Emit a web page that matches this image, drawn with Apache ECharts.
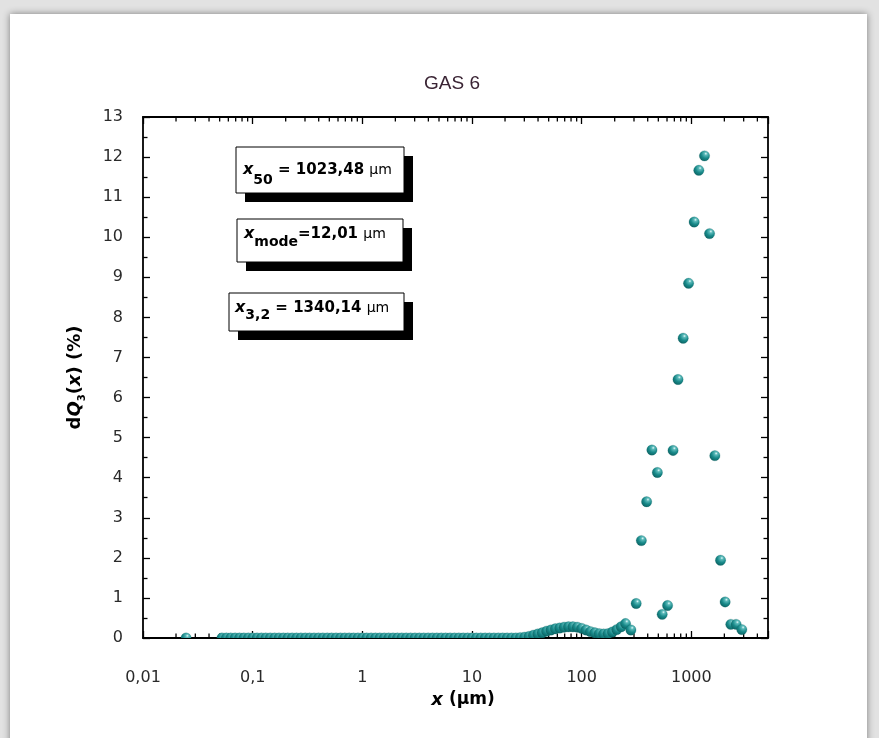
<!DOCTYPE html>
<html>
<head>
<meta charset="utf-8">
<script src="https://cdn.jsdelivr.net/npm/echarts@6/dist/echarts.min.js"></script>
<style>
html,body{margin:0;padding:0;width:879px;height:738px;overflow:hidden;background:#e2e2e2;}
#card{position:absolute;left:10px;top:14px;width:857px;height:740px;background:#fff;box-shadow:0 0 7px rgba(0,0,0,0.45);}
#chart{position:absolute;left:0;top:0;width:879px;height:738px;}
</style>
</head>
<body>
<div id="card"></div>
<div id="chart"></div>
<script>
// ---------- data ----------
const chartTitle = 'GAS 6';
const xTickValues = [0.01, 0.1, 1, 10, 100, 1000];
const xTickLabels = ['0,01', '0,1', '1', '10', '100', '1000'];
const xMinorTicks = [0.02, 0.03, 0.04, 0.05, 0.06, 0.07, 0.08, 0.09,
                     0.2, 0.3, 0.4, 0.5, 0.6, 0.7, 0.8, 0.9,
                     2, 3, 4, 5, 6, 7, 8, 9,
                     20, 30, 40, 50, 60, 70, 80, 90,
                     200, 300, 400, 500, 600, 700, 800, 900,
                     2000, 3000, 4000];
const yMin = 0, yMax = 13;

// isolated point
const strayX = [0.0247];
const strayY = [0];

// dense fine-size channel series (µm, %)
const denseX = [
  0.05248, 0.05754, 0.06310, 0.06918, 0.07586, 0.08318, 0.09120,
  0.1000, 0.1096, 0.1202, 0.1318, 0.1445, 0.1585, 0.1738, 0.1905, 0.2089, 0.2291,
  0.2512, 0.2754, 0.3020, 0.3311, 0.3631, 0.3981, 0.4365, 0.4786, 0.5248, 0.5754,
  0.6310, 0.6918, 0.7586, 0.8318, 0.9120,
  1.000, 1.096, 1.202, 1.318, 1.445, 1.585, 1.738, 1.905, 2.089, 2.291,
  2.512, 2.754, 3.020, 3.311, 3.631, 3.981, 4.365, 4.786, 5.248, 5.754,
  6.310, 6.918, 7.586, 8.318, 9.120,
  10.00, 10.96, 12.02, 13.18, 14.45, 15.85, 17.38, 19.05, 20.89, 22.91,
  25.12, 27.54, 30.20, 33.11, 36.31, 39.81, 43.65, 47.86, 52.48, 57.54,
  63.10, 69.18, 75.86, 83.18, 91.20,
  100.0, 109.6, 120.2, 131.8, 144.5, 158.5, 173.8, 190.5, 208.9, 229.1
];
const denseY = [
  0, 0, 0, 0, 0, 0, 0,
  0, 0, 0, 0, 0, 0, 0, 0, 0, 0,
  0, 0, 0, 0, 0, 0, 0, 0, 0, 0,
  0, 0, 0, 0, 0,
  0, 0, 0, 0, 0, 0, 0, 0, 0, 0,
  0, 0, 0, 0, 0, 0, 0, 0, 0, 0,
  0, 0, 0, 0, 0,
  0, 0, 0, 0, 0, 0, 0, 0, 0, 0,
  0, 0.01, 0.02, 0.04, 0.07, 0.10, 0.13, 0.17, 0.20, 0.23,
  0.25, 0.27, 0.28, 0.28, 0.27,
  0.24, 0.20, 0.16, 0.13, 0.11, 0.10, 0.11, 0.15, 0.21, 0.28
];

// coarse-size channel series (µm, %)
const peakX = [251, 281, 314, 350, 391, 437, 490, 542, 607, 681, 756, 842,
               943, 1061, 1170, 1318, 1465, 1638, 1845, 2032, 2291, 2560, 2884];
const peakY = [0.36, 0.20, 0.86, 2.43, 3.40, 4.69, 4.13, 0.59, 0.81, 4.68, 6.45, 7.48,
               8.85, 10.38, 11.67, 12.03, 10.09, 4.55, 1.94, 0.90, 0.34, 0.34, 0.21];

// ---------- chart ----------
const chart = echarts.init(document.getElementById('chart'), null, {renderer: 'canvas'});

const pairs = (xs, ys) => xs.map((x, i) => [x, ys[i]]);
const points = pairs(strayX, strayY).concat(pairs(denseX, denseY), pairs(peakX, peakY));

const ballFill = new echarts.graphic.RadialGradient(0.62, 0.3, 0.75, [
  {offset: 0, color: '#e6fbfb'},
  {offset: 0.18, color: '#5cbaba'},
  {offset: 0.55, color: '#188989'},
  {offset: 1, color: '#0a5f5f'}
]);

function renderBall(params, api) {
  const p = api.coord([api.value(0), api.value(1)]);
  return {
    type: 'circle',
    shape: {cx: p[0], cy: p[1], r: 5.2},
    style: {fill: ballFill, stroke: 'rgba(8,90,90,0.35)', lineWidth: 0.6}
  };
}

function renderMinorTick(params, api) {
  const v = api.value(0);
  const b = api.coord([v, yMin]);
  const t = api.coord([v, yMax]);
  return {
    type: 'group',
    children: [
      {type: 'line', shape: {x1: b[0], y1: b[1], x2: b[0], y2: b[1] - 4.5}, style: {stroke: '#000', lineWidth: 1.3}},
      {type: 'line', shape: {x1: t[0], y1: t[1], x2: t[0], y2: t[1] + 4.5}, style: {stroke: '#000', lineWidth: 1.3}}
    ]
  };
}

const labelFont = 'DejaVu Sans';
const isDecade = v => xTickValues.findIndex(t => Math.abs(Math.log10(t) - Math.log10(v)) < 1e-6);

const axisLineStyle = {color: '#000', width: 1.8};
const tickStyle = {color: '#000', width: 1.3};

const boldTxt = {fontFamily: labelFont, fontWeight: 'bold', fontSize: 15, color: '#000'};
const italTxt = {fontFamily: labelFont, fontWeight: 'bold', fontStyle: 'italic', fontSize: 16, color: '#000'};
const muTxt = {fontFamily: labelFont, fontWeight: 'normal', fontSize: 14, color: '#000'};
function subTxt(shift) {
  return {fontFamily: labelFont, fontWeight: 'bold', fontSize: 14, color: '#000', padding: [shift * 2, 0, 0, 0]};
}

function box(x, y, w, h) {
  return [
    {type: 'rect', z: 50, shape: {x: x + 9, y: y + 9, width: w, height: h}, style: {fill: '#000'}},
    {type: 'rect', z: 51, shape: {x: x, y: y, width: w, height: h}, style: {fill: '#fff', stroke: '#000', lineWidth: 1}}
  ];
}
function boxText(x, y, text, shift) {
  return {
    type: 'text', z: 52, x: x, y: y,
    style: {
      text: text, align: 'left', verticalAlign: 'middle',
      rich: {b: boldTxt, i: italTxt, u: muTxt, s: subTxt(shift)}
    }
  };
}

const option = {
  animation: false,
  backgroundColor: 'transparent',
  title: {
    text: chartTitle,
    left: 447, top: 69, textAlign: 'center',
    textStyle: {fontFamily: 'Liberation Sans', fontWeight: 'normal', fontSize: 19, color: '#3a2434'}
  },
  grid: {left: 143, right: 111, top: 117, bottom: 100},
  xAxis: [
    {
      type: 'log', logBase: 10, min: 0.01, max: 5000, position: 'bottom',
      axisLine: {onZero: false, lineStyle: axisLineStyle},
      axisTick: {inside: true, length: 7, lineStyle: tickStyle},
      splitLine: {show: false},
      axisLabel: {
        margin: 32, fontFamily: labelFont, fontSize: 16, color: '#2a2a2a',
        formatter: v => { const k = isDecade(v); return k >= 0 ? xTickLabels[k] : ''; }
      },
      name: '{i|x}{b| (μm)}',
      nameLocation: 'middle', nameGap: 50,
      nameTextStyle: {
        padding: [0, 0, 0, 15],
        rich: {
          i: {fontFamily: labelFont, fontWeight: 'bold', fontStyle: 'italic', fontSize: 18, color: '#000'},
          b: {fontFamily: labelFont, fontWeight: 'bold', fontSize: 17, color: '#000'}
        }
      }
    },
    {
      type: 'log', logBase: 10, min: 0.01, max: 5000, position: 'top',
      axisLine: {onZero: false, lineStyle: axisLineStyle},
      axisTick: {inside: true, length: 7, lineStyle: tickStyle},
      axisLabel: {show: false}, splitLine: {show: false}
    }
  ],
  yAxis: [
    {
      type: 'value', min: yMin, max: yMax, interval: 1, position: 'left',
      axisLine: {show: true, onZero: false, lineStyle: axisLineStyle},
      axisTick: {show: true, inside: true, length: 7, lineStyle: tickStyle},
      minorTick: {show: true, splitNumber: 2, length: 4.5, lineStyle: tickStyle},
      splitLine: {show: false},
      axisLabel: {margin: 20, fontFamily: labelFont, fontSize: 16, color: '#2a2a2a'},
      name: '{b|d}{i|Q}{s|3}{b|(}{i|x}{b|) (%)}',
      nameLocation: 'middle', nameGap: 56, nameRotate: 90,
      nameTextStyle: {
        rich: {
          b: {fontFamily: labelFont, fontWeight: 'bold', fontSize: 18, color: '#000'},
          i: {fontFamily: labelFont, fontWeight: 'bold', fontStyle: 'italic', fontSize: 18, color: '#000'},
          s: {fontFamily: labelFont, fontWeight: 'bold', fontSize: 10, color: '#000', padding: [13, 0, 0, 0]}
        }
      }
    },
    {
      type: 'value', min: yMin, max: yMax, interval: 1, position: 'right',
      axisLine: {show: true, onZero: false, lineStyle: axisLineStyle},
      axisTick: {show: true, inside: true, length: 7, lineStyle: tickStyle},
      minorTick: {show: true, splitNumber: 2, length: 4.5, lineStyle: tickStyle},
      splitLine: {show: false},
      axisLabel: {show: false}
    }
  ],
  series: [
    {
      type: 'custom', name: 'minor ticks', coordinateSystem: 'cartesian2d',
      xAxisIndex: 0, yAxisIndex: 0, z: 1, silent: true, clip: false,
      renderItem: renderMinorTick,
      data: xMinorTicks.map(v => [v, yMin])
    },
    {
      type: 'custom', name: 'dQ3', coordinateSystem: 'cartesian2d',
      xAxisIndex: 0, yAxisIndex: 0, z: 5, clip: true,
      renderItem: renderBall,
      data: points
    }
  ],
  graphic: [].concat(
    box(236, 147, 168, 46),
    [boxText(243, 170, '{i|x}{s|50}{b| = 1023,48 }{u|μm}', 10)],
    box(237, 219, 166, 43),
    [boxText(244, 234, '{i|x}{s|mode}{b|=12,01 }{u|μm}', 8)],
    box(229, 293, 175, 38),
    [boxText(235, 308, '{i|x}{s|3,2}{b| = 1340,14 }{u|μm}', 7)]
  )
};

chart.setOption(option);
</script>
</body>
</html>
